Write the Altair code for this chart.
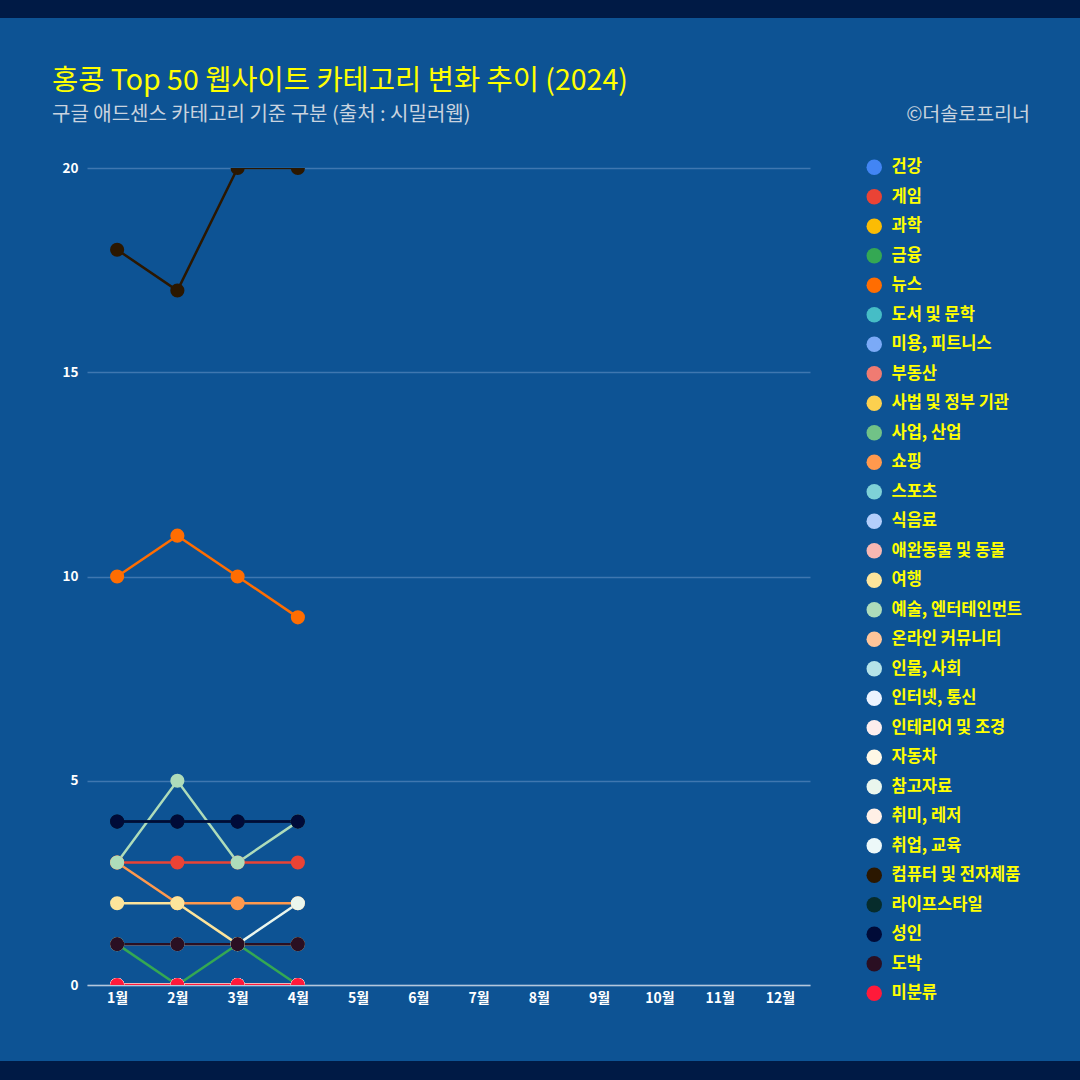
import altair as alt
import pandas as pd

months = ["1월", "2월", "3월", "4월", "5월", "6월", "7월", "8월", "9월", "10월", "11월", "12월"]
data_months = ["1월", "2월", "3월", "4월"]

categories = [
    "건강", "게임", "과학", "금융", "뉴스", "도서 및 문학", "미용, 피트니스", "부동산",
    "사법 및 정부 기관", "사업, 산업", "쇼핑", "스포츠", "식음료", "애완동물 및 동물",
    "여행", "예술, 엔터테인먼트", "온라인 커뮤니티", "인물, 사회", "인터넷, 통신",
    "인테리어 및 조경", "자동차", "참고자료", "취미, 레저", "취업, 교육",
    "컴퓨터 및 전자제품", "라이프스타일", "성인", "도박", "미분류",
]

colors = [
    "#4285f4", "#ea4335", "#fbbc04", "#34a853", "#ff6d01", "#46bdc6", "#7baaf7", "#f07b72",
    "#fcd04f", "#71c287", "#ff994d", "#7ed1d7", "#b3cefb", "#f7b7b2",
    "#fde49b", "#aedcba", "#ffc599", "#b5e3e8", "#ecf3fe",
    "#fdeeed", "#fff8e6", "#eaf6ed", "#fff0e6", "#edf8f9",
    "#2b1700", "#062c2c", "#000b38", "#2a0f22", "#ff1a3a",
]

values = {
    "건강": [0, 0, 0, 0],
    "게임": [3, 3, 3, 3],
    "과학": [0, 0, 0, 0],
    "금융": [1, 0, 1, 0],
    "뉴스": [10, 11, 10, 9],
    "도서 및 문학": [0, 0, 0, 0],
    "미용, 피트니스": [0, 0, 0, 0],
    "부동산": [0, 0, 0, 0],
    "사법 및 정부 기관": [0, 0, 0, 0],
    "사업, 산업": [0, 0, 0, 0],
    "쇼핑": [3, 2, 2, 2],
    "스포츠": [0, 0, 0, 0],
    "식음료": [0, 0, 0, 0],
    "애완동물 및 동물": [0, 0, 0, 0],
    "여행": [2, 2, 1, 1],
    "예술, 엔터테인먼트": [3, 5, 3, 4],
    "온라인 커뮤니티": [0, 0, 0, 0],
    "인물, 사회": [0, 0, 0, 0],
    "인터넷, 통신": [0, 0, 0, 0],
    "인테리어 및 조경": [0, 0, 0, 0],
    "자동차": [0, 0, 0, 0],
    "참고자료": [1, 1, 1, 2],
    "취미, 레저": [0, 0, 0, 0],
    "취업, 교육": [0, 0, 0, 0],
    "컴퓨터 및 전자제품": [18, 17, 20, 20],
    "라이프스타일": [4, 4, 4, 4],
    "성인": [4, 4, 4, 4],
    "도박": [1, 1, 1, 1],
    "미분류": [0, 0, 0, 0],
}

y_ticks = [0, 5, 10, 15, 20]

title_text = "홍콩 Top 50 웹사이트 카테고리 변화 추이 (2024)"
subtitle_text = "구글 애드센스 카테고리 기준 구분 (출처 : 시밀러웹)"
credit_text = "©더솔로프리너"

rows = []
for i, c in enumerate(categories):
    for m, v in zip(data_months, values[c]):
        rows.append({"category": c, "month": m, "count": v, "order": i})
df = pd.DataFrame(rows)

FONT = "Noto Sans CJK KR"
BG = "#0d5394"
BAND = "#001a45"

color_enc = alt.Color(
    "category:N",
    scale=alt.Scale(domain=categories, range=colors),
    sort=categories,
    legend=alt.Legend(
        title=None,
        orient="none",
        legendX=779,
        legendY=-9,
        symbolType="circle",
        symbolSize=240,
        symbolStrokeWidth=0,
        labelFont=FONT,
        labelFontSize=16.5,
        labelFontWeight="bold",
        labelColor="#ffff00",
        labelOffset=9,
        rowPadding=12.5,
        symbolLimit=100,
        labelLimit=300,
    ),
)

x_enc = alt.X(
    "month:O",
    scale=alt.Scale(domain=months, type="point", padding=0.5),
    sort=months,
    axis=alt.Axis(
        title=None,
        labelAngle=0,
        ticks=False,
        labelFont=FONT,
        labelFontSize=14,
        labelFontWeight="bold",
        labelColor="#ffffff",
        labelPadding=6,
        domainColor="#b4c7dc",
        domainWidth=1.5,
        grid=False,
    ),
)

y_enc = alt.Y(
    "count:Q",
    scale=alt.Scale(domain=[0, 20], nice=False),
    axis=alt.Axis(
        title=None,
        values=y_ticks,
        ticks=False,
        domain=False,
        labelFont=FONT,
        labelFontSize=13.5,
        labelFontWeight="bold",
        labelColor="#ffffff",
        labelPadding=9,
        gridColor="#3f77b0",
        gridWidth=1.5,
    ),
)

lines = alt.Chart(df).mark_line(strokeWidth=2.5, clip=True).encode(
    x=x_enc, y=y_enc, color=color_enc, detail="category:N", order="order:Q"
)
points = alt.Chart(df).mark_point(filled=True, size=200, opacity=1, clip=True).encode(
    x=x_enc, y=y_enc, color=color_enc, order="order:Q"
)

one = pd.DataFrame({"k": [0]})
bands = alt.Chart(one).mark_rect(color=BAND).encode(
    x=alt.value(-87), x2=alt.value(993), y=alt.value(-168), y2=alt.value(-150)
)
bands2 = alt.Chart(one).mark_rect(color=BAND).encode(
    x=alt.value(-87), x2=alt.value(993), y=alt.value(893), y2=alt.value(912)
)
title = alt.Chart(one).mark_text(
    text=title_text, font=FONT, fontSize=28.5, color="#ffff00", align="left", baseline="middle"
).encode(x=alt.value(-35), y=alt.value(-87))
subtitle = alt.Chart(one).mark_text(
    text=subtitle_text, font=FONT, fontSize=20, color="#c9d3df", align="left", baseline="middle"
).encode(x=alt.value(-35), y=alt.value(-53))
credit = alt.Chart(one).mark_text(
    text=credit_text, font=FONT, fontSize=19.5, color="#c9d3df", align="right", baseline="middle"
).encode(x=alt.value(943), y=alt.value(-53))

chart = alt.layer(bands, bands2, lines, points, title, subtitle, credit).properties(
    width=723,
    height=817,
    autosize=alt.AutoSizeParams(type="none"),
    padding={"left": 87, "top": 168, "right": 270, "bottom": 95},
    background=BG,
).configure_view(stroke=None)

chart.save("out.html", embed_options={"renderer": "svg", "actions": False})
